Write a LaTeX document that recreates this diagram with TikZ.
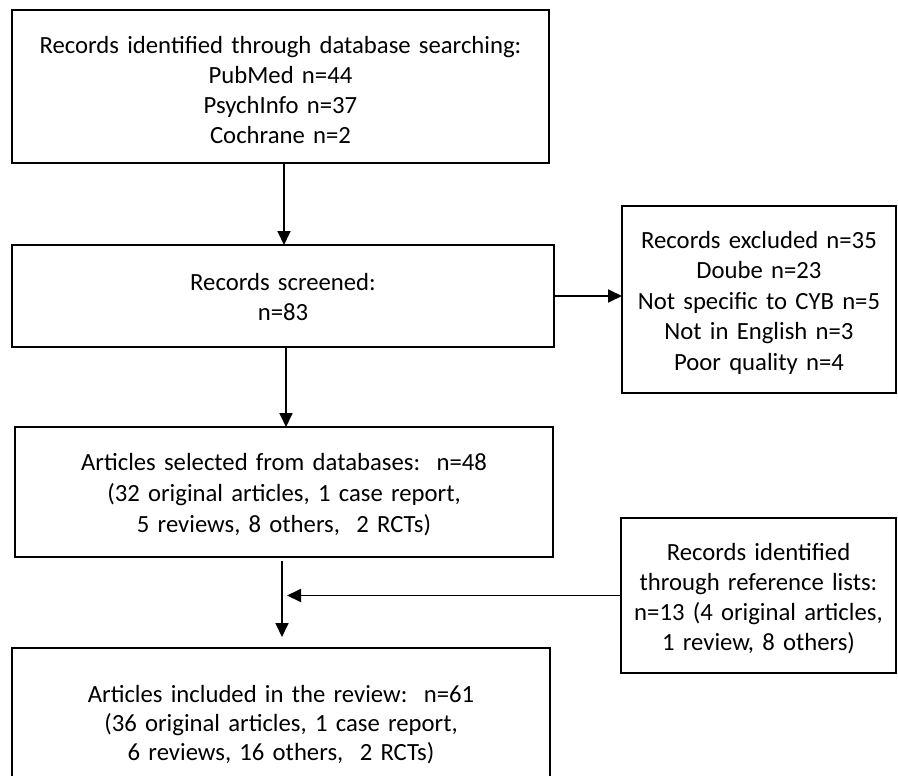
\documentclass[tikz,border=0pt]{standalone}
\usepackage{fontspec}
\setmainfont{Carlito}
\usetikzlibrary{arrows.meta}
\begin{document}
\begin{tikzpicture}[x=1pt,y=-1pt,
  box/.style={draw=black, line width=1.8pt, inner sep=0pt, outer sep=0pt},
  txt/.style={text width=#1, align=center, anchor=base, inner sep=0pt},
  arr/.style={line width=1.8pt, -{Triangle[length=14pt,width=13pt]}}]
\useasboundingbox (0,0) rectangle (898,776);
\clip (0,0) rectangle (898,776);
% boxes
\node[box, minimum width=537pt, minimum height=153pt] (b1) at (280.5,86.5) {};
\node[box, minimum width=542pt, minimum height=102pt] (b2) at (283,296) {};
\node[box, minimum width=274pt, minimum height=187pt] (b3) at (759,299.5) {};
\node[box, minimum width=538pt, minimum height=130pt] (b4) at (284,492) {};
\node[box, minimum width=275pt, minimum height=155pt] (b5) at (758.5,595.5) {};
\node[box, minimum width=538pt, minimum height=129pt] (b6) at (281,712.5) {};
% texts
\node[txt=520pt, font=\fontsize{24.7}{30}\selectfont] (t1) at (280.5,54)
  {Records identified through database searching:\\ PubMed n=44\\ PsychInfo n=37\\ Cochrane n=2};
\node[txt=520pt, font=\fontsize{24.7}{30}\selectfont] (t2) at (283,290)
  {Records screened:\\ n=83};
\node[txt=266pt, font=\fontsize{24.7}{30.5}\selectfont] (t3) at (759,248)
  {Records excluded n=35\\ Doube n=23\\ Not specific to CYB n=5\\ Not in English n=3\\ Poor quality n=4};
\node[txt=520pt, font=\fontsize{24.7}{31}\selectfont] (t4) at (284,470)
  {Articles selected from databases:\ \ n=48\\ (32 original articles, 1 case report,\\ 5 reviews, 8 others,\ \ 2 RCTs)};
\node[txt=266pt, font=\fontsize{24.7}{30}\selectfont] (t5) at (758.5,560)
  {Records identified\\ through reference lists:\\ n=13 (4 original articles,\\ 1 review, 8 others)};
\node[txt=520pt, font=\fontsize{24.7}{29}\selectfont] (t6) at (281,702)
  {Articles included in the review:\ \ n=61\\ (36 original articles, 1 case report,\\ 6 reviews, 16 others,\ \ 2 RCTs)};
% connectors
\draw[arr] ([xshift=3.5pt]b1.south) -- ([xshift=3.5pt]b1.south |- b2.north);
\draw[arr] (b2.east) -- (b2.east -| b3.west);
\draw[arr] ([xshift=3pt]b2.south) -- ([xshift=3pt]b2.south |- b4.north);
\draw[arr, shorten <=4pt, shorten >=11pt] ([xshift=-2pt]b4.south) -- ([xshift=-2pt]b4.south |- b6.north);
\coordinate (j) at ([xshift=3pt]b4.south |- b5.west);
\draw[arr] (b5.west) -- (j);
\end{tikzpicture}
\end{document}
